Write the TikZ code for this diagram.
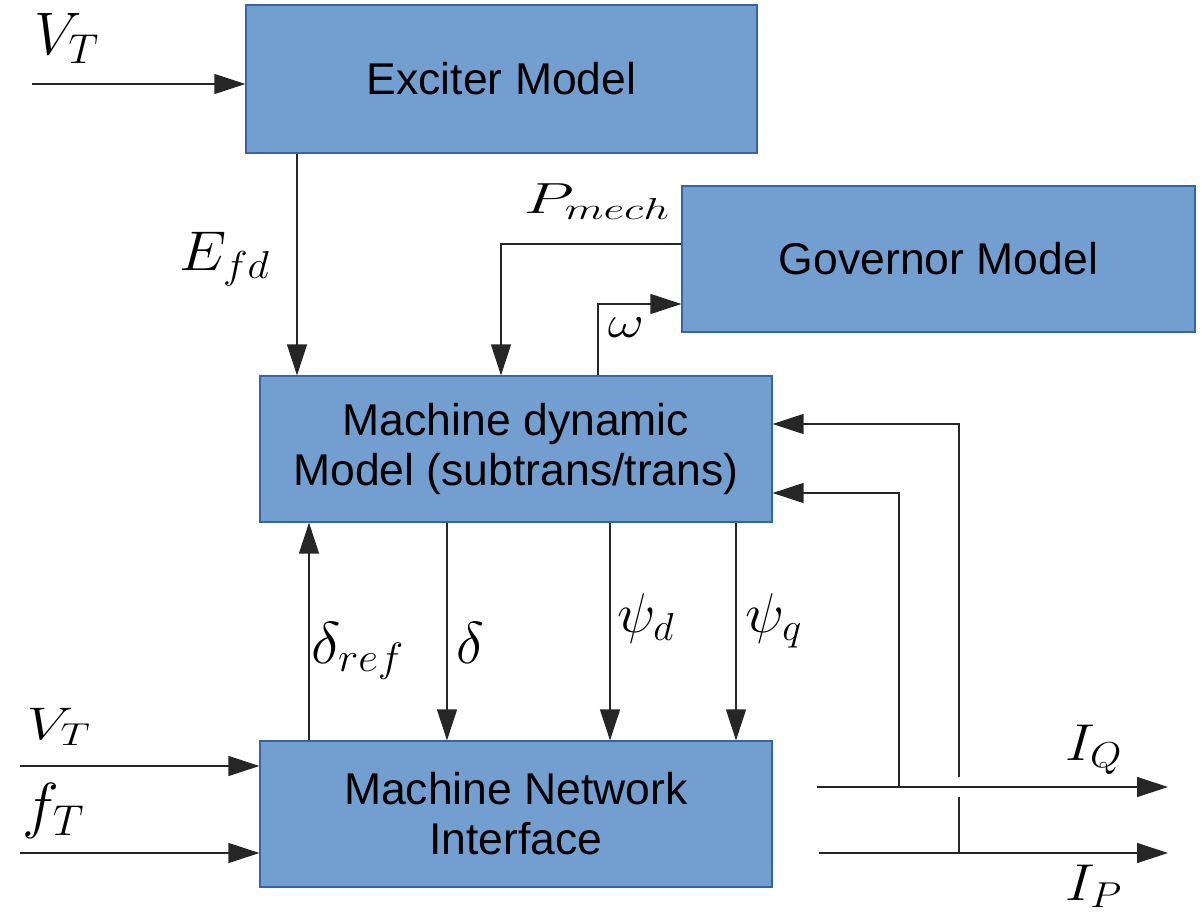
\documentclass[tikz,border=0pt]{standalone}
\usepackage{fontspec}
\setmainfont{Liberation Sans}
\usetikzlibrary{arrows.meta}
\definecolor{boxfill}{RGB}{114,159,207}
\definecolor{boxline}{RGB}{52,101,164}
% #1 = horizontal scale, #2 = vertical scale, #3 = math
\newcommand{\lab}[3]{\scalebox{#1}[#2]{\fontsize{20.74}{25}\selectfont$#3$}}
\begin{document}
\begin{tikzpicture}[x=1pt,y=-1pt,
  blk/.style={draw=boxline, line width=1.2pt, fill=boxfill, align=center, inner sep=0pt,
     font=\fontsize{44.5}{50}\selectfont},
  arr/.style={line width=1.3pt, draw=black!85, -{Triangle[length=31pt,width=20pt]}},
  ln/.style={line width=1.3pt, draw=black!85},
  lbl/.style={inner sep=0pt, anchor=base}]
\useasboundingbox (0,0) rectangle (1202,913);
% boxes
\node[blk, minimum width=511pt, minimum height=148pt] (exc) at (501.5,79) {Exciter Model};
\node[blk, minimum width=513pt, minimum height=146pt] (gov) at (938.5,259) {Governor Model};
\node[blk, minimum width=512pt, minimum height=146pt] (mdm) at (516,449) {Machine dynamic\\Model (subtrans/trans)};
\node[blk, minimum width=512pt, minimum height=146pt] (mni) at (516,814) {Machine Network\\Interface};
% x / y reference coordinates
\coordinate (vtA) at (32,84);
\coordinate (vtB) at (20,766);
\coordinate (fT) at (20,853);
\coordinate (xE) at (297,0);
\coordinate (xP) at (501,244);
\coordinate (xW) at (598,304);
\coordinate (xDr) at (309,0);
\coordinate (xD) at (447,0);
\coordinate (xPd) at (610,0);
\coordinate (xPq) at (736,0);
\coordinate (iqS) at (817,787);
\coordinate (iqE) at (1168,787);
\coordinate (ipS) at (819,853);
\coordinate (ipE) at (1168,853);
\coordinate (fb1) at (899,493);
\coordinate (fb2) at (959,424);
\coordinate (gapLo) at (959,797);
\coordinate (gapHi) at (959,777);
% connectors
\draw[arr] (vtA) -- (vtA -| exc.west);
\draw[arr] (xE |- exc.south) -- (xE |- mdm.north);
\draw[arr] (xP -| gov.west) -- (xP) -- (xP |- mdm.north);
\draw[arr] (xW |- mdm.north) -- (xW) -- (xW -| gov.west);
\draw[arr] (xDr |- mni.north) -- (xDr |- mdm.south);
\draw[arr] (xD |- mdm.south) -- (xD |- mni.north);
\draw[arr] (xPd |- mdm.south) -- (xPd |- mni.north);
\draw[arr] (xPq |- mdm.south) -- (xPq |- mni.north);
\draw[arr] (vtB) -- (vtB -| mni.west);
\draw[arr] (fT) -- (fT -| mni.west);
\draw[arr] (iqS) -- (iqE);
\draw[arr] (ipS) -- (ipE);
\draw[arr] (fb1 |- iqS) -- (fb1) -- (fb1 -| mdm.east);
\draw[ln] (fb2 |- ipS) -- (gapLo);
\draw[arr] (gapHi) -- (fb2) -- (fb2 -| mdm.east);
% labels (anchored at baseline)
\node[lbl] (lvtA) at (67,54) {\lab{2.9}{2.9}{V_T}};
\node[lbl] (lefd) at (225,270) {\lab{2.9}{2.7}{E_{fd}}};
\node[lbl] (lpm) at (597,213) {\lab{3.15}{2.1}{P_{mech}}};
\node[lbl] (lw) at (626,337) {\lab{2.7}{2.2}{\omega}};
\node[lbl] (ldr) at (358,663) {\lab{3.0}{2.85}{\delta_{ref}}};
\node[lbl] (ld) at (470,663) {\lab{2.85}{2.85}{\delta}};
\node[lbl] (lpd) at (646,632) {\lab{2.75}{2.7}{\psi_d}};
\node[lbl] (lpq) at (774,632) {\lab{2.8}{2.7}{\psi_q}};
\node[lbl] (lvtB) at (59,739) {\lab{2.85}{2.2}{V_T}};
\node[lbl] (lft) at (54,826) {\lab{3.0}{3.0}{f_T}};
\node[lbl] (liq) at (1094,760) {\lab{2.8}{2.5}{I_Q}};
\node[lbl] (lip) at (1094,900) {\lab{2.8}{2.5}{I_P}};
\end{tikzpicture}
\end{document}
